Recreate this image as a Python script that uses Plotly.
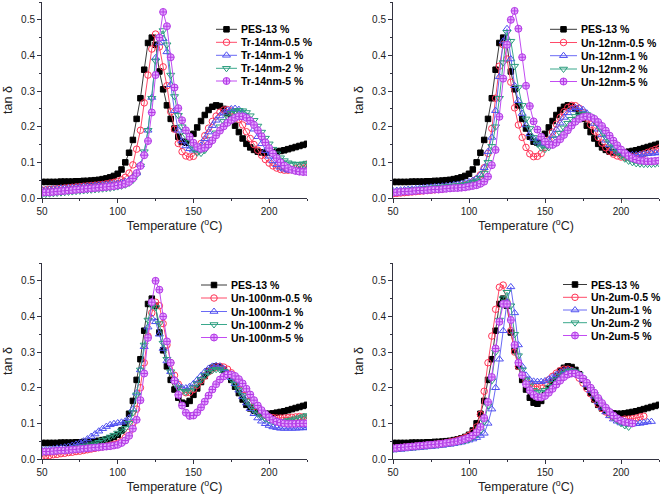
import plotly.graph_objects as go

TEMP = [50, 52.5, 55, 57.5, 60, 62.5, 65, 67.5, 70, 72.5, 75, 77.5, 80, 82.5, 85, 87.5, 90, 92.5, 95, 97.5, 100,
        102.5, 105, 107.5, 110, 112.5, 115, 117.5, 120, 122.5, 125,
        127.5, 130, 132.5, 135, 137.5, 140, 142.5, 145, 147.5, 150,
        152.5, 155, 157.5, 160, 162.5, 165, 167.5, 170, 172.5, 175,
        177.5, 180, 182.5, 185, 187.5, 190, 192.5, 195, 197.5, 200,
        202.5, 205, 207.5, 210, 212.5, 215, 217.5, 220, 222.5, 225]

PES_13 = [0.045, 0.045, 0.045, 0.045, 0.045, 0.046, 0.046, 0.046, 0.046, 0.047, 0.047, 0.048, 0.048, 0.049, 0.050, 0.051, 0.053, 0.055, 0.058, 0.062, 0.068,
          0.080, 0.100, 0.127, 0.163, 0.222, 0.280, 0.360, 0.435, 0.450, 0.430,
          0.355, 0.305, 0.260, 0.222, 0.195, 0.172, 0.158, 0.155, 0.163, 0.180,
          0.198, 0.216, 0.233, 0.247, 0.256, 0.260, 0.258, 0.250, 0.238, 0.222,
          0.203, 0.185, 0.167, 0.152, 0.142, 0.135, 0.130, 0.128, 0.127, 0.127,
          0.128, 0.130, 0.132, 0.134, 0.137, 0.140, 0.143, 0.146, 0.149, 0.152]

# ---- Panel 1: Tr-14nm ----
TR14_05 = [0.022, 0.023, 0.024, 0.025, 0.026, 0.027, 0.028, 0.029, 0.030, 0.031, 0.032, 0.033, 0.034, 0.035, 0.036, 0.037, 0.038, 0.040, 0.042, 0.044, 0.047,
           0.051, 0.058, 0.070, 0.093, 0.137, 0.190, 0.267, 0.345, 0.418, 0.460,
           0.424, 0.368, 0.315, 0.242, 0.193, 0.153, 0.130, 0.118, 0.115, 0.117,
           0.132, 0.153, 0.175, 0.196, 0.215, 0.230, 0.241, 0.247, 0.248, 0.244,
           0.234, 0.221, 0.205, 0.186, 0.167, 0.150, 0.134, 0.120, 0.108, 0.098,
           0.090, 0.084, 0.080, 0.078, 0.078, 0.080, 0.083, 0.087, 0.091, 0.095]
TR14_1 = [0.022, 0.023, 0.024, 0.025, 0.026, 0.027, 0.027, 0.028, 0.029, 0.030, 0.031, 0.032, 0.033, 0.034, 0.035, 0.036, 0.037, 0.038, 0.039, 0.040, 0.041,
          0.043, 0.046, 0.050, 0.057, 0.070, 0.093, 0.125, 0.190, 0.282, 0.393,
          0.435, 0.447, 0.410, 0.318, 0.245, 0.190, 0.160, 0.146, 0.138, 0.134,
          0.135, 0.148, 0.166, 0.185, 0.203, 0.218, 0.230, 0.240, 0.246, 0.250,
          0.251, 0.248, 0.240, 0.228, 0.212, 0.193, 0.172, 0.152, 0.133, 0.117,
          0.104, 0.093, 0.086, 0.081, 0.078, 0.077, 0.077, 0.078, 0.079, 0.080]
TR14_2 = [0.010, 0.011, 0.012, 0.013, 0.014, 0.015, 0.016, 0.017, 0.018, 0.019, 0.020, 0.021, 0.022, 0.023, 0.024, 0.025, 0.026, 0.027, 0.028, 0.030, 0.032,
          0.034, 0.037, 0.042, 0.050, 0.065, 0.090, 0.130, 0.190, 0.280, 0.385,
          0.450, 0.470, 0.430, 0.345, 0.285, 0.232, 0.200, 0.176, 0.156, 0.138,
          0.127, 0.126, 0.134, 0.148, 0.165, 0.183, 0.200, 0.215, 0.228, 0.238,
          0.244, 0.246, 0.245, 0.240, 0.231, 0.218, 0.202, 0.185, 0.168, 0.152,
          0.137, 0.124, 0.113, 0.105, 0.099, 0.096, 0.095, 0.095, 0.096, 0.098]
TR14_5 = [0.015, 0.016, 0.016, 0.017, 0.018, 0.019, 0.020, 0.021, 0.022, 0.023, 0.024, 0.025, 0.026, 0.027, 0.028, 0.029, 0.030, 0.031, 0.032, 0.033, 0.035,
          0.037, 0.040, 0.045, 0.055, 0.070, 0.090, 0.120, 0.160, 0.240, 0.345,
          0.450, 0.522, 0.482, 0.395, 0.310, 0.252, 0.218, 0.190, 0.172, 0.155,
          0.143, 0.138, 0.141, 0.150, 0.162, 0.176, 0.189, 0.201, 0.211, 0.219,
          0.225, 0.229, 0.229, 0.225, 0.217, 0.205, 0.190, 0.173, 0.156, 0.140,
          0.125, 0.112, 0.100, 0.091, 0.084, 0.079, 0.076, 0.074, 0.073, 0.073]

# ---- Panel 2: Un-12nm ----
UN12_05 = [0.012, 0.013, 0.014, 0.015, 0.016, 0.017, 0.018, 0.019, 0.020, 0.021, 0.022, 0.023, 0.024, 0.025, 0.027, 0.028, 0.030, 0.032, 0.034, 0.037, 0.040,
           0.045, 0.053, 0.065, 0.085, 0.125, 0.195, 0.280, 0.370, 0.430, 0.390,
           0.325, 0.253, 0.205, 0.170, 0.142, 0.124, 0.116, 0.117, 0.125, 0.142,
           0.163, 0.185, 0.207, 0.226, 0.242, 0.254, 0.260, 0.259, 0.252, 0.240,
           0.224, 0.206, 0.188, 0.170, 0.154, 0.141, 0.131, 0.123, 0.118, 0.115,
           0.114, 0.114, 0.115, 0.117, 0.120, 0.124, 0.128, 0.132, 0.136, 0.140]
UN12_1 = [0.020, 0.021, 0.022, 0.023, 0.024, 0.025, 0.026, 0.027, 0.028, 0.029, 0.030, 0.031, 0.032, 0.033, 0.034, 0.035, 0.037, 0.038, 0.040, 0.042, 0.045,
          0.049, 0.055, 0.065, 0.085, 0.130, 0.170, 0.245, 0.340, 0.440, 0.475,
          0.390, 0.315, 0.273, 0.237, 0.205, 0.180, 0.167, 0.157, 0.151, 0.152,
          0.160, 0.175, 0.192, 0.210, 0.226, 0.239, 0.248, 0.253, 0.253, 0.248,
          0.238, 0.225, 0.209, 0.193, 0.177, 0.162, 0.149, 0.139, 0.131, 0.126,
          0.123, 0.121, 0.121, 0.121, 0.122, 0.123, 0.124, 0.125, 0.126, 0.127]
UN12_2 = [0.018, 0.019, 0.020, 0.021, 0.022, 0.023, 0.024, 0.025, 0.026, 0.027, 0.028, 0.029, 0.030, 0.031, 0.032, 0.033, 0.034, 0.035, 0.036, 0.038, 0.040,
          0.044, 0.048, 0.056, 0.070, 0.100, 0.145, 0.200, 0.280, 0.380, 0.465,
          0.440, 0.370, 0.310, 0.260, 0.222, 0.195, 0.170, 0.152, 0.141, 0.137,
          0.142, 0.153, 0.167, 0.182, 0.197, 0.210, 0.221, 0.229, 0.234, 0.236,
          0.234, 0.228, 0.218, 0.204, 0.188, 0.171, 0.155, 0.141, 0.128, 0.118,
          0.110, 0.104, 0.100, 0.097, 0.096, 0.095, 0.095, 0.095, 0.096, 0.097]
UN12_5 = [0.015, 0.016, 0.017, 0.018, 0.018, 0.019, 0.020, 0.021, 0.021, 0.022, 0.023, 0.024, 0.024, 0.025, 0.026, 0.027, 0.028, 0.028, 0.029, 0.030, 0.032,
          0.034, 0.036, 0.040, 0.046, 0.060, 0.092, 0.135, 0.228, 0.335, 0.430,
          0.500, 0.525, 0.475, 0.395, 0.315, 0.258, 0.215, 0.192, 0.172, 0.158,
          0.150, 0.149, 0.155, 0.165, 0.177, 0.190, 0.203, 0.214, 0.222, 0.227,
          0.229, 0.227, 0.222, 0.213, 0.202, 0.189, 0.175, 0.161, 0.148, 0.136,
          0.126, 0.118, 0.112, 0.108, 0.105, 0.104, 0.103, 0.103, 0.104, 0.105]

# ---- Panel 3: Un-100nm ----
UN100_05 = [0.008, 0.009, 0.010, 0.012, 0.013, 0.015, 0.016, 0.018, 0.019, 0.021, 0.022, 0.024, 0.026, 0.028, 0.030, 0.032, 0.034, 0.036, 0.038, 0.041, 0.044,
            0.050, 0.060, 0.075, 0.100, 0.140, 0.200, 0.270, 0.345, 0.410, 0.440,
            0.430, 0.380, 0.320, 0.270, 0.235, 0.210, 0.193, 0.186, 0.187, 0.195,
            0.207, 0.220, 0.233, 0.245, 0.253, 0.258, 0.260, 0.258, 0.252, 0.242,
            0.228, 0.212, 0.195, 0.178, 0.162, 0.148, 0.137, 0.128, 0.122, 0.118,
            0.116, 0.115, 0.115, 0.115, 0.116, 0.117, 0.118, 0.119, 0.118, 0.115]
UN100_1 = [0.025, 0.026, 0.027, 0.028, 0.030, 0.031, 0.033, 0.035, 0.038, 0.041, 0.045, 0.050, 0.056, 0.063, 0.070, 0.078, 0.085, 0.091, 0.096, 0.099, 0.101,
           0.103, 0.106, 0.115, 0.140, 0.185, 0.250, 0.315, 0.370, 0.395, 0.385,
           0.350, 0.310, 0.275, 0.245, 0.222, 0.207, 0.200, 0.199, 0.203, 0.211,
           0.222, 0.234, 0.245, 0.254, 0.260, 0.262, 0.260, 0.253, 0.242, 0.228,
           0.211, 0.193, 0.175, 0.157, 0.141, 0.127, 0.115, 0.106, 0.099, 0.094,
           0.090, 0.088, 0.086, 0.086, 0.086, 0.086, 0.086, 0.087, 0.087, 0.088]
UN100_2 = [0.018, 0.019, 0.021, 0.022, 0.023, 0.025, 0.026, 0.028, 0.029, 0.031, 0.033, 0.035, 0.037, 0.040, 0.043, 0.047, 0.052, 0.057, 0.062, 0.067, 0.073,
           0.079, 0.086, 0.100, 0.130, 0.180, 0.250, 0.320, 0.390, 0.430, 0.425,
           0.380, 0.325, 0.280, 0.245, 0.218, 0.200, 0.190, 0.188, 0.192, 0.200,
           0.211, 0.223, 0.234, 0.243, 0.249, 0.252, 0.251, 0.246, 0.237, 0.225,
           0.210, 0.194, 0.178, 0.163, 0.149, 0.137, 0.127, 0.119, 0.113, 0.109,
           0.106, 0.105, 0.105, 0.106, 0.108, 0.110, 0.113, 0.116, 0.119, 0.122]
UN100_5 = [0.020, 0.021, 0.021, 0.022, 0.023, 0.024, 0.024, 0.025, 0.026, 0.027, 0.028, 0.029, 0.030, 0.031, 0.032, 0.033, 0.034, 0.035, 0.036, 0.038, 0.040,
           0.045, 0.052, 0.065, 0.085, 0.110, 0.165, 0.240, 0.340, 0.440, 0.500,
           0.475, 0.400, 0.330, 0.270, 0.220, 0.180, 0.150, 0.130, 0.121, 0.122,
           0.131, 0.145, 0.161, 0.178, 0.195, 0.210, 0.223, 0.232, 0.237, 0.237,
           0.233, 0.224, 0.212, 0.197, 0.181, 0.165, 0.150, 0.137, 0.126, 0.117,
           0.110, 0.105, 0.102, 0.100, 0.099, 0.099, 0.099, 0.100, 0.100, 0.100]

# ---- Panel 4: Un-2um ----
UN2_05 = [0.030, 0.031, 0.032, 0.033, 0.034, 0.035, 0.036, 0.037, 0.038, 0.039, 0.040, 0.041, 0.043, 0.044, 0.046, 0.048, 0.050, 0.053, 0.056, 0.060, 0.066,
          0.075, 0.090, 0.125, 0.190, 0.270, 0.345, 0.420, 0.482, 0.488, 0.440,
          0.360, 0.300, 0.260, 0.235, 0.220, 0.210, 0.204, 0.203, 0.206, 0.213,
          0.222, 0.232, 0.241, 0.248, 0.252, 0.252, 0.248, 0.239, 0.227, 0.213,
          0.198, 0.183, 0.168, 0.154, 0.142, 0.132, 0.124, 0.117, 0.112, 0.109,
          0.112, 0.112, 0.113, 0.115, 0.118, 0.120, None, None, None, None]
UN2_1 = [0.025, 0.026, 0.027, 0.028, 0.029, 0.030, 0.031, 0.032, 0.033, 0.034, 0.035, 0.036, 0.037, 0.038, 0.040, 0.041, 0.043, 0.045, 0.047, 0.050, 0.053,
         0.056, 0.060, 0.066, 0.072, 0.100, 0.140, 0.200, 0.280, 0.360, 0.440,
         0.483, 0.410, 0.320, 0.260, 0.235, 0.222, 0.218, 0.217, 0.217, 0.219,
         0.224, 0.230, 0.237, 0.243, 0.247, 0.249, 0.248, 0.243, 0.234, 0.222,
         0.208, 0.192, 0.176, 0.160, 0.145, 0.132, 0.121, 0.112, 0.106, 0.101,
         0.099, 0.098, 0.098, 0.099, 0.100, 0.102, 0.104, 0.105, None, None]
UN2_2 = [0.028, 0.029, 0.030, 0.031, 0.032, 0.033, 0.034, 0.035, 0.036, 0.037, 0.038, 0.039, 0.040, 0.041, 0.043, 0.044, 0.046, 0.048, 0.050, 0.052, 0.055,
         0.061, 0.068, 0.080, 0.105, 0.150, 0.220, 0.300, 0.390, 0.450, 0.468,
         0.430, 0.350, 0.290, 0.250, 0.222, 0.205, 0.193, 0.188, 0.188, 0.193,
         0.202, 0.212, 0.223, 0.233, 0.241, 0.246, 0.248, 0.245, 0.237, 0.225,
         0.211, 0.196, 0.181, 0.166, 0.152, 0.139, 0.127, 0.117, 0.108, 0.100,
         0.094, 0.090, None, None, None, None, None, None, None, None]
UN2_5 = [0.030, 0.031, 0.032, 0.033, 0.034, 0.035, 0.036, 0.037, 0.038, 0.039, 0.040, 0.041, 0.042, 0.043, 0.045, 0.046, 0.048, 0.050, 0.053, 0.056, 0.060,
         0.066, 0.075, 0.090, 0.115, 0.160, 0.230, 0.310, 0.385, 0.435, 0.435,
         0.390, 0.320, 0.270, 0.235, 0.210, 0.193, 0.180, 0.174, 0.173, 0.177,
         0.186, 0.197, 0.209, 0.220, 0.230, 0.237, 0.240, 0.240, 0.235, 0.226,
         0.214, 0.200, 0.186, 0.171, 0.157, 0.144, 0.132, 0.122, 0.114, 0.108,
         0.104, 0.102, 0.100, None, None, None, None, None, None, None]

PANELS = [
    (["PES-13 %", "Tr-14nm-0.5 %", "Tr-14nm-1 %", "Tr-14nm-2 %", "Tr-14nm-5 %"],
     [PES_13, TR14_05, TR14_1, TR14_2, TR14_5]),
    (["PES-13 %", "Un-12nm-0.5 %", "Un-12nm-1 %", "Un-12nm-2 %", "Un-12nm-5 %"],
     [PES_13, UN12_05, UN12_1, UN12_2, UN12_5]),
    (["PES-13 %", "Un-100nm-0.5 %", "Un-100nm-1 %", "Un-100nm-2 %", "Un-100nm-5 %"],
     [PES_13, UN100_05, UN100_1, UN100_2, UN100_5]),
    (["PES-13 %", "Un-2um-0.5 %", "Un-2um-1 %", "Un-2um-2 %", "Un-2um-5 %"],
     [PES_13, UN2_05, UN2_1, UN2_2, UN2_5]),
]

# ---- styles ----
STYLES = [
    dict(line="#3a3a3a", symbol="square", fill="#000000", mline="#000000", size=5.5),
    dict(line="#ff4a68", symbol="circle-open", fill="#ff3355", mline="#ff3355", size=6.5),
    dict(line="#6a6af5", symbol="triangle-up-open", fill="#4f4ff0", mline="#4f4ff0", size=7),
    dict(line="#3aa88c", symbol="triangle-down-open", fill="#2a9c7c", mline="#2a9c7c", size=7),
    dict(line="#c24cf2", symbol="circle-cross", fill="#e4aaff", mline="#b43ae6", size=7),
]

W, H = 661, 495
XDOM = [[42 / W, 307 / W], [393 / W, 659 / W]]
YDOM = [[1 - 198 / H, 1 - 2 / H], [1 - 459 / H, 1 - 263 / H]]

# legend layout in pixel coordinates: (line x0, line x1, text x, row y's)
LEGEND_POS = [
    (216, 237, 239, [29.3, 42.3, 55.3, 68.3, 81.0]),
    (550, 577, 579, [29.3, 42.5, 55.7, 69.0, 81.5]),
    (201, 227, 229, [285.0, 298.0, 311.5, 324.5, 337.5]),
    (563, 587, 589, [284.5, 297.3, 310.0, 322.7, 335.5]),
]

fig = go.Figure()
FONT = "Arial, 'Liberation Sans', sans-serif"

for p, (names, series) in enumerate(PANELS):
    ax = "" if p == 0 else str(p + 1)
    for name, vals, st in zip(names, series, STYLES):
        fig.add_trace(go.Scatter(
            x=TEMP, y=vals, name=name, mode="lines+markers",
            xaxis="x" + ax, yaxis="y" + ax, showlegend=False, connectgaps=False,
            line=dict(color=st["line"], width=1),
            marker=dict(symbol=st["symbol"], size=st["size"], color=st["fill"],
                        line=dict(color=st["mline"], width=1)),
        ))

# legends drawn on a full-figure overlay axis (pixel coords)
annotations = []
for p, (names, series) in enumerate(PANELS):
    x0, x1, tx, rows = LEGEND_POS[p]
    for name, ry, st in zip(names, rows, STYLES):
        fig.add_trace(go.Scatter(
            x=[x0, x1], y=[ry, ry], mode="lines", xaxis="x5", yaxis="y5", showlegend=False,
            line=dict(color=st["line"], width=1), hoverinfo="skip"))
        fig.add_trace(go.Scatter(
            x=[(x0 + x1) / 2], y=[ry], mode="markers", xaxis="x5", yaxis="y5", showlegend=False,
            marker=dict(symbol=st["symbol"], size=st["size"], color=st["fill"],
                        line=dict(color=st["mline"], width=1)), hoverinfo="skip"))
        annotations.append(dict(x=tx, y=ry, xref="x5", yref="y5", text=name, showarrow=False,
                                xanchor="left", yanchor="middle",
                                font=dict(family=FONT, size=10.5, color="#000", weight="bold")))

axcol = "#333340"
layout = dict(
    width=W, height=H, margin=dict(l=0, r=0, t=0, b=0, pad=0, autoexpand=False),
    paper_bgcolor="white", plot_bgcolor="rgba(0,0,0,0)",
    font=dict(family=FONT, color="#222"),
    annotations=annotations,
    xaxis5=dict(domain=[0, 1], range=[0, W], visible=False, anchor="y5", fixedrange=True,
                automargin=False),
    yaxis5=dict(domain=[0, 1], range=[H, 0], visible=False, anchor="x5", fixedrange=True,
                automargin=False),
)

for p in range(4):
    ax = "" if p == 0 else str(p + 1)
    col, row = p % 2, p // 2
    layout["xaxis" + ax] = dict(
        domain=XDOM[col], anchor="y" + ax, range=[50, 225], automargin=False,
        tickmode="linear", tick0=50, dtick=50,
        ticks="outside", ticklen=4, tickwidth=1, tickcolor=axcol,
        minor=dict(ticks="outside", ticklen=2, tickwidth=1, tickcolor=axcol, dtick=25, tick0=50),
        showline=True, linecolor=axcol, linewidth=1, showgrid=False, zeroline=False,
        tickfont=dict(size=10, color="#222"),
        title=dict(text="Temperature (<sup>o</sup>C)", font=dict(size=12.5, color="#222"), standoff=5),
    )
    layout["yaxis" + ax] = dict(
        domain=YDOM[row], anchor="x" + ax, range=[0, 0.55], automargin=False,
        tickmode="linear", tick0=0, dtick=0.1, tickformat=".1f",
        ticks="outside", ticklen=4, tickwidth=1, tickcolor=axcol,
        minor=dict(ticks="outside", ticklen=2, tickwidth=1, tickcolor=axcol, dtick=0.05, tick0=0),
        showline=True, linecolor=axcol, linewidth=1, showgrid=False, zeroline=False,
        tickfont=dict(size=10, color="#222"),
        title=dict(text="tan δ", font=dict(size=12.5, color="#222"), standoff=5),
    )

fig.update_layout(**layout)
fig.write_html("out.html", config={"displayModeBar": False},
               post_script="document.body.style.margin='0';document.body.style.overflow='hidden';")
